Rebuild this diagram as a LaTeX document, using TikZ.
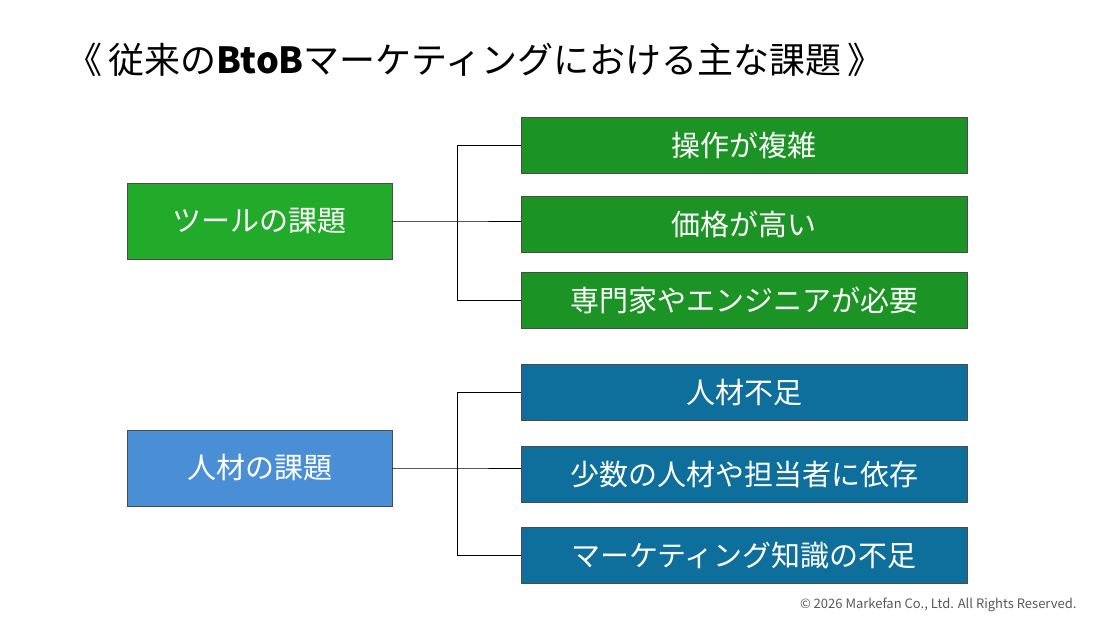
\documentclass[tikz,border=0pt]{standalone}
\usepackage{fontspec}
\setmainfont{Noto Sans CJK JP}
\begin{document}
\begin{tikzpicture}[x=1pt,y=-1pt,
  box/.style={draw=black!70,line width=0.8pt,text=white,font=\fontsize{29}{32}\selectfont,inner sep=0pt},
  con/.style={line width=1pt,black}]
\definecolor{lg}{HTML}{22AA2A}
\definecolor{dg}{HTML}{1C9425}
\definecolor{lb}{HTML}{4A8FD6}
\definecolor{db}{HTML}{0E6F9C}
\useasboundingbox (0,0) rectangle (1100,619);
\fill[white] (0,0) rectangle (1100,619);
\node[anchor=west,font=\fontsize{36}{40}\selectfont,inner sep=0pt] (title) at (66,60) {《\,従来の\textbf{BtoB}マーケティングにおける主な課題\,》};
\node[box,fill=lg,minimum width=265pt,minimum height=76pt] (t) at (259.5,221) {ツールの課題};
\node[box,fill=dg,minimum width=446pt,minimum height=56pt] (t1) at (744,145) {操作が複雑};
\node[box,fill=dg,minimum width=446pt,minimum height=56pt] (t2) at (744,224.5) {価格が高い};
\node[box,fill=dg,minimum width=446pt,minimum height=56pt] (t3) at (744,300.5) {専門家やエンジニアが必要};
\node[box,fill=lb,minimum width=265pt,minimum height=76pt] (h) at (259.5,468) {人材の課題};
\node[box,fill=db,minimum width=446pt,minimum height=56pt] (h1) at (744,392.5) {人材不足};
\node[box,fill=db,minimum width=446pt,minimum height=56pt] (h2) at (744,474.5) {少数の人材や担当者に依存};
\node[box,fill=db,minimum width=446pt,minimum height=56pt] (h3) at (744,555.5) {マーケティング知識の不足};
\coordinate (jt) at (457,221);
\coordinate (jh) at (457,468);
\draw[con] (t.east) -- (jt) -- (jt -| t2.west);
\draw[con] (t1.west) -- (t1.west -| jt) -- (t3.west -| jt) -- (t3.west);
\draw[con] (h.east) -- (jh) -- (jh -| h2.west);
\draw[con] (h1.west) -- (h1.west -| jh) -- (h3.west -| jh) -- (h3.west);
\node[anchor=east,text=black!65,font=\fontsize{13}{15}\selectfont] (c) at (1080,605) {© 2026 Markefan Co., Ltd. All Rights Reserved.};
\end{tikzpicture}
\end{document}
